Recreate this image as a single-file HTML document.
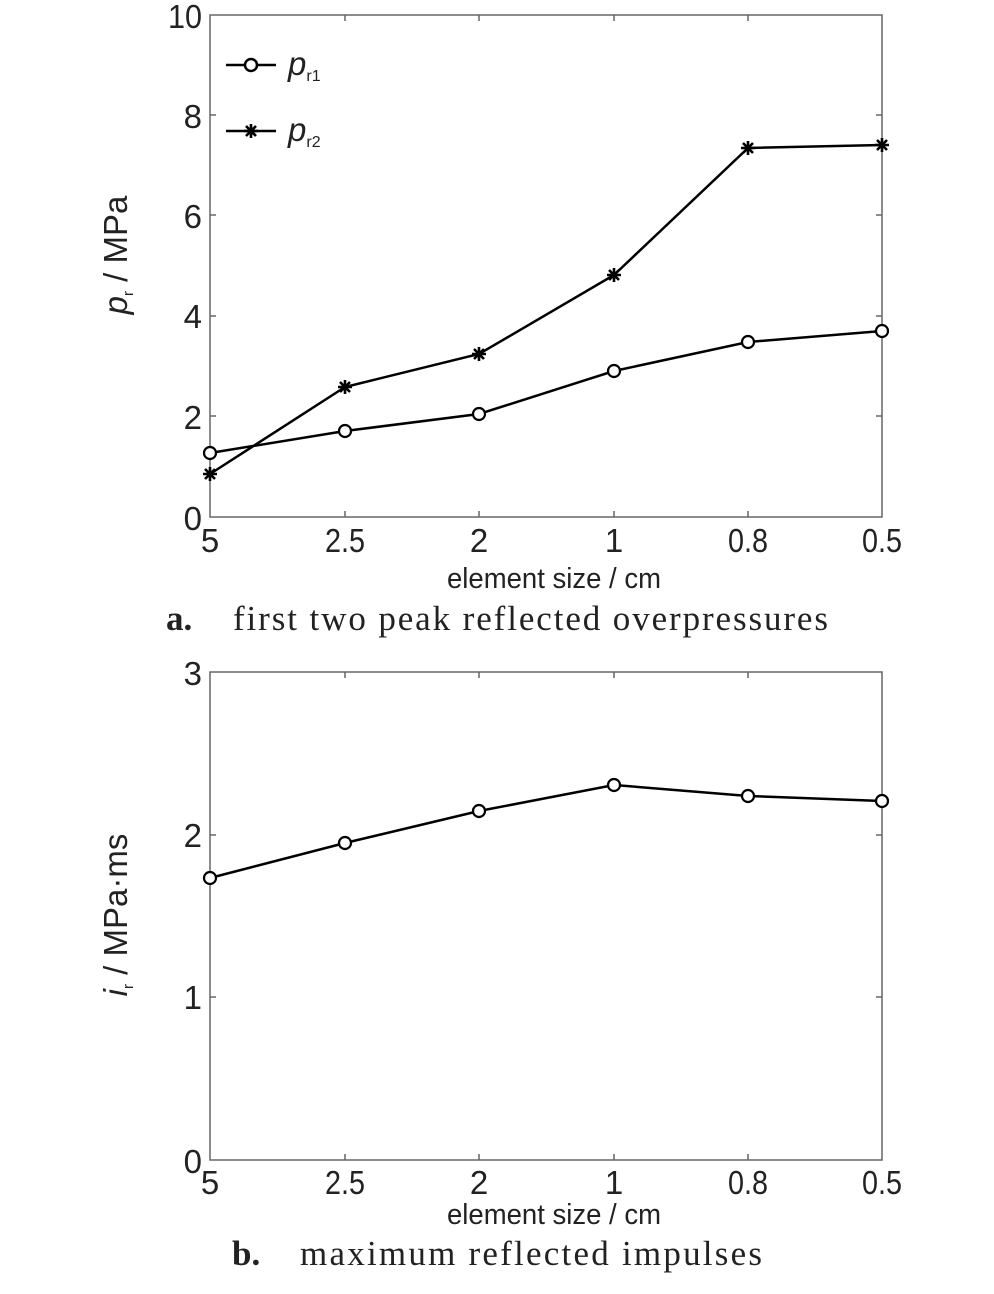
<!DOCTYPE html>
<html><head><style>
body{margin:0;background:#fff}
svg{display:block}
.t{font-family:"Liberation Sans",sans-serif;font-size:33px;fill:#222}
.c{font-family:"Liberation Serif",serif;font-size:35px;fill:#222}
</style></head><body>
<svg width="994" height="1294" viewBox="0 0 994 1294" xmlns="http://www.w3.org/2000/svg">
<defs>
<path id="s" d="M-7 0h14M0 -7v14M-5 -5l10 10M-5 5l10 -10" stroke="#000" stroke-width="2.6"/>
</defs>
<g stroke="#666" stroke-width="1.5" fill="none">
<rect x="210" y="15" width="672" height="502"/>
<rect x="210" y="672" width="672" height="488"/>
</g>
<g stroke="#666" stroke-width="1.5">
<path d="M345 517v-6M479 517v-6M614 517v-6M748 517v-6M345 15v6M479 15v6M614 15v6M748 15v6
M210 115h6M210 215h6M210 316h6M210 416h6M882 115h-6M882 215h-6M882 316h-6M882 416h-6"/>
<path d="M345 1160v-6M479 1160v-6M614 1160v-6M748 1160v-6M345 672v6M479 672v6M614 672v6M748 672v6
M210 835h6M210 997h6M882 835h-6M882 997h-6"/>
</g>
<g class="t" text-anchor="end">
<text x="202" y="28" textLength="34" lengthAdjust="spacingAndGlyphs">10</text><text x="202" y="128">8</text><text x="202" y="228">6</text><text x="202" y="328">4</text><text x="202" y="429">2</text><text x="202" y="530">0</text>
<text x="202" y="685">3</text><text x="202" y="847">2</text><text x="202" y="1009">1</text><text x="202" y="1173">0</text>
</g>
<g class="t" text-anchor="middle">
<text x="210" y="552">5</text><text x="345" y="552" textLength="40" lengthAdjust="spacingAndGlyphs">2.5</text><text x="479" y="552">2</text><text x="614" y="552">1</text><text x="748" y="552" textLength="40" lengthAdjust="spacingAndGlyphs">0.8</text><text x="882" y="552" textLength="40" lengthAdjust="spacingAndGlyphs">0.5</text>
<text x="554" y="588" font-size="29" textLength="214" lengthAdjust="spacingAndGlyphs">element size / cm</text>
<text x="210" y="1194">5</text><text x="345" y="1194" textLength="40" lengthAdjust="spacingAndGlyphs">2.5</text><text x="479" y="1194">2</text><text x="614" y="1194">1</text><text x="748" y="1194" textLength="40" lengthAdjust="spacingAndGlyphs">0.8</text><text x="882" y="1194" textLength="40" lengthAdjust="spacingAndGlyphs">0.5</text>
<text x="554" y="1224" font-size="29" textLength="214" lengthAdjust="spacingAndGlyphs">element size / cm</text>
</g>
<text class="t" transform="translate(127 255) rotate(-90)" text-anchor="middle" font-size="29"><tspan font-style="italic">p</tspan><tspan font-size="15" dy="6">r</tspan><tspan dy="-6"> / MPa</tspan></text>
<text class="t" transform="translate(127 915) rotate(-90)" text-anchor="middle" font-size="29"><tspan font-style="italic">i</tspan><tspan font-size="15" dy="6">r</tspan><tspan dy="-6"> / MPa·ms</tspan></text>
<text class="c" x="166" y="630" font-weight="bold" font-size="32">a.</text>
<text class="c" x="233" y="630" textLength="595" lengthAdjust="spacing">first two peak reflected overpressures</text>
<text class="c" x="232" y="1265" font-weight="bold" font-size="32">b.</text>
<text class="c" x="300" y="1265" textLength="462" lengthAdjust="spacing">maximum reflected impulses</text>
<!-- legend -->
<g stroke="#000" stroke-width="2.5" fill="none">
<path d="M226 65h50M226 131h50"/>
<circle cx="251" cy="65" r="6" fill="#fff"/>
</g>
<text class="t" x="288" y="75" font-size="30"><tspan font-style="italic">p</tspan><tspan font-size="16" dy="6">r1</tspan></text>
<text class="t" x="288" y="141" font-size="30"><tspan font-style="italic">p</tspan><tspan font-size="16" dy="6">r2</tspan></text>
<g stroke="#000" stroke-width="2.5" fill="none">
<polyline points="210,453 345,431 479,414 614,371 748,342 882,331"/>
<polyline points="210,474 345,387 479,354 614,275 748,148 882,145"/>
<polyline points="210,878 345,843 479,811 614,785 748,796 882,801"/>
</g>
<g stroke="#000" stroke-width="2.2" fill="#fff">
<circle cx="210" cy="453" r="6"/><circle cx="345" cy="431" r="6"/><circle cx="479" cy="414" r="6"/><circle cx="614" cy="371" r="6"/><circle cx="748" cy="342" r="6"/><circle cx="882" cy="331" r="6"/>
<circle cx="210" cy="878" r="6"/><circle cx="345" cy="843" r="6"/><circle cx="479" cy="811" r="6"/><circle cx="614" cy="785" r="6"/><circle cx="748" cy="796" r="6"/><circle cx="882" cy="801" r="6"/>
</g>
<use href="#s" x="251" y="131"/>
<use href="#s" x="210" y="474"/><use href="#s" x="345" y="387"/><use href="#s" x="479" y="354"/><use href="#s" x="614" y="275"/><use href="#s" x="748" y="148"/><use href="#s" x="882" y="145"/>
</svg>
</body></html>
